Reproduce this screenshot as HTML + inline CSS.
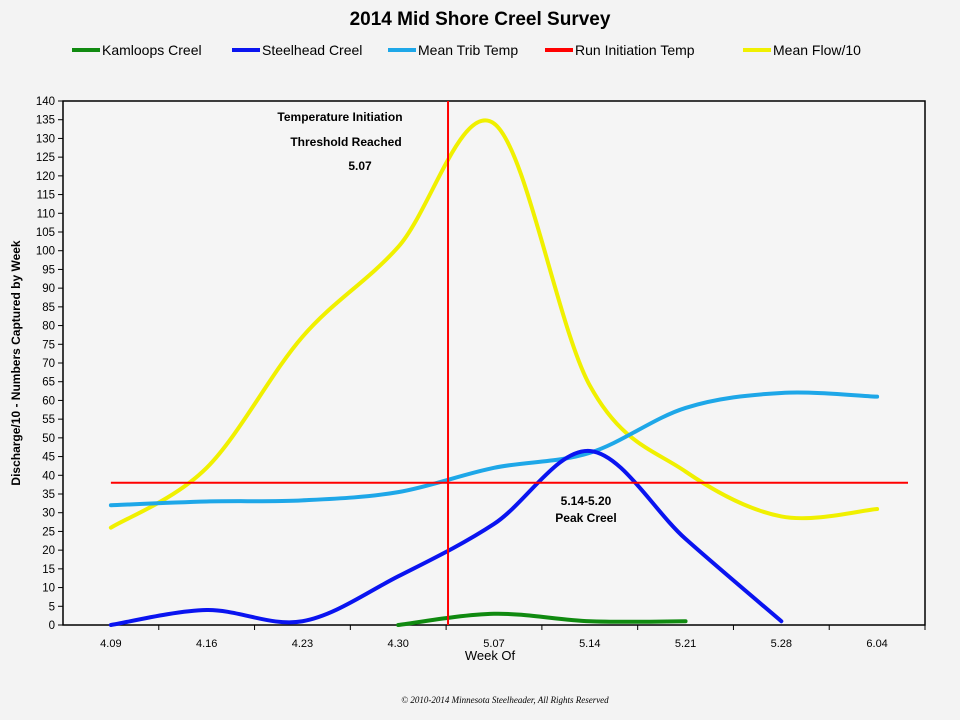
<!DOCTYPE html>
<html><head><meta charset="utf-8"><style>
body{margin:0;background:#f3f3f3;}
svg{display:block;font-family:"Liberation Sans",sans-serif;}
</style></head><body>
<svg id="c" width="960" height="720" viewBox="0 0 960 720">
<rect x="0" y="0" width="960" height="720" fill="#f3f3f3"/>
<text x="480" y="25" text-anchor="middle" font-size="19" font-weight="bold">2014 Mid Shore Creel Survey</text>
<g id="legend"></g>
<rect x="63" y="101" width="862" height="524" fill="#f5f5f5" stroke="#000" stroke-width="1.5"/>
<g id="axes"></g>
<g id="series"></g>
<text transform="translate(20,363) rotate(-90)" text-anchor="middle" font-size="12" font-weight="bold">Discharge/10 - Numbers Captured by Week</text>
<text x="490" y="660" text-anchor="middle" font-size="13">Week Of</text>
<text x="340" y="121" text-anchor="middle" font-size="12" font-weight="bold">Temperature Initiation</text>
<text x="346" y="146" text-anchor="middle" font-size="12" font-weight="bold">Threshold Reached</text>
<text x="360" y="170" text-anchor="middle" font-size="12" font-weight="bold">5.07</text>
<text x="586" y="505" text-anchor="middle" font-size="12" font-weight="bold">5.14-5.20</text>
<text x="586" y="522" text-anchor="middle" font-size="12" font-weight="bold">Peak Creel</text>
<text x="505" y="703" text-anchor="middle" font-size="9" font-family="Liberation Serif,serif" font-style="italic">© 2010-2014 Minnesota Steelheader, All Rights Reserved</text>
</svg>
<script>
const categories=["4.09","4.16","4.23","4.30","5.07","5.14","5.21","5.28","6.04"];
const kamloops=[null,null,null,0,3,1,1,null,null];
const steelhead=[0,4,1,13,27,46.5,23,1,null];
const tribTemp=[32,33,33.3,35.5,42,46,58,62,61];
const flow=[26,42,77,101,134,64,41,29,31];
const runInitTemp=38;
const initWeekIndex=3.52;
const yTicks=[0,5,10,15,20,25,30,35,40,45,50,55,60,65,70,75,80,85,90,95,100,105,110,115,120,125,130,135,140];
const L=63,R=925,T=101,B=625,cw=(R-L)/categories.length;
const X=i=>L+cw*(i+0.5);
const Y=v=>B-(v/140)*(B-T);
const NS="http://www.w3.org/2000/svg";
function mk(p,t,a){const e=document.createElementNS(NS,t);for(const k in a)e.setAttribute(k,a[k]);p.appendChild(e);return e;}
const axes=document.getElementById('axes');
yTicks.forEach(v=>{
 const l=mk(axes,'line',{x1:L-5,x2:L,y1:Y(v),y2:Y(v),stroke:'#000'});
 
 
 const t=mk(axes,'text',{x:L-8,y:Y(v)+4,'text-anchor':'end','font-size':'11.5'});t.textContent=v;
 
 
});
categories.forEach((c,i)=>{
 const l=mk(axes,'line',{x1:L+cw*(i+1),x2:L+cw*(i+1),y1:B,y2:B+5,stroke:'#000'});
 
 
 const t=mk(axes,'text',{x:X(i),y:B+22,'text-anchor':'middle','font-size':'11'});t.textContent=c;
 
 
});
function smooth(vals){
 const p=[];vals.forEach((v,i)=>{if(v!==null)p.push([X(i),Y(v)]);});
 let d='M'+p[0][0]+','+p[0][1];
 for(let i=0;i<p.length-1;i++){
  const p0=p[i-1]||p[i],p1=p[i],p2=p[i+1],p3=p[i+2]||p2,k=1/6;
  d+=' C'+(p1[0]+(p2[0]-p0[0])*k)+','+(p1[1]+(p2[1]-p0[1])*k)+' '+(p2[0]-(p3[0]-p1[0])*k)+','+(p2[1]-(p3[1]-p1[1])*k)+' '+p2[0]+','+p2[1];
 }
 return d;
}
const sg=document.getElementById('series');
const series=[[flow,'#f0f000','flow-line'],[tribTemp,'#1ea7e8','trib-temp-line'],[steelhead,'#0a14f0','steelhead-line'],[kamloops,'#108a10','kamloops-line']];
series.forEach(s=>{
 const e=mk(sg,'path',{d:smooth(s[0]),fill:'none',stroke:s[1],'stroke-width':4,'stroke-linecap':'round'});
 
 
});
const h=mk(sg,'line',{x1:X(0),x2:908,y1:Y(runInitTemp),y2:Y(runInitTemp),stroke:'#ff0000','stroke-width':2});


const vx=X(initWeekIndex);
const v=mk(sg,'line',{x1:vx,x2:vx,y1:T,y2:B,stroke:'#ff0000','stroke-width':2});


const lg=document.getElementById('legend');
const items=[['Kamloops Creel','#108a10',72],['Steelhead Creel','#0a14f0',232],['Mean Trib Temp','#1ea7e8',388],['Run Initiation Temp','#ff0000',545],['Mean Flow/10','#f0f000',743]];
items.forEach(it=>{
 const g=mk(lg,'g',{});
 
 
 mk(g,'line',{x1:it[2],x2:it[2]+28,y1:50,y2:50,stroke:it[1],'stroke-width':4});
 const t=mk(g,'text',{x:it[2]+30,y:55,'font-size':'14'});t.textContent=it[0];
});
</script>
</body></html>
